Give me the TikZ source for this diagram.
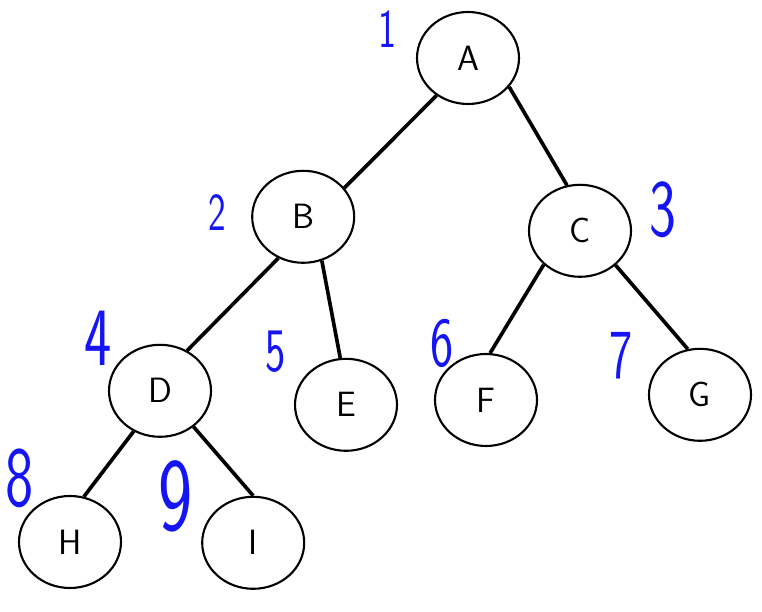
\documentclass[tikz,border=0pt]{standalone}
\usepackage{xcolor}
\usepackage{tikz}
\usetikzlibrary{shapes.geometric}
\definecolor{inkblack}{HTML}{000000}
\definecolor{penblue}{HTML}{1414F5}

\begin{document}
\begin{tikzpicture}[
  vertex/.style={ellipse,draw=inkblack,line width=1.5pt,fill=white,
    minimum width=2.55cm,minimum height=2.3cm,inner sep=0pt,
    font=\sffamily\fontsize{25}{25}\selectfont},
  link/.style={line width=2.6pt,inkblack},
  order/.style={text=penblue,inner sep=0pt,transform shape,xscale=0.7,
    font=\sffamily\fontsize{#1}{#1}\selectfont},
  order/.default=40
]
  \useasboundingbox (0,0) rectangle (19.05,15.3);

  \node[vertex] (A) at (11.70,13.85) {A};
  \node[vertex] (B) at (7.58,9.88) {B};
  \node[vertex] (C) at (14.50,9.53) {C};
  \node[vertex] (D) at (4.00,5.53) {D};
  \node[vertex] (E) at (8.65,5.18) {E};
  \node[vertex] (F) at (12.15,5.30) {F};
  \node[vertex] (G) at (17.50,5.43) {G};
  \node[vertex] (H) at (1.75,1.75) {H};
  \node[vertex] (I) at (6.33,1.73) {I};

  \draw[link] (A.230) -- (B.35);
  \draw[link] (A.325) -- (C.106);
  \draw[link] (B.239) -- (D.56);
  \draw[link] (B.293) -- (E.97);
  \draw[link] (C.223) -- (F.85);
  \draw[link] (C.316) -- (G.105);
  \draw[link] (D.237) -- (H.73);
  \draw[link] (D.313) -- (I.90);

  \node[order=39] (n1) at (9.70,14.58) {1};
  \node[order=38] (n2) at (5.43,9.98) {2};
  \node[order=58] (n3) at (16.58,10.05) {3};
  \node[order=59] (n4) at (2.45,6.85) {4};
  \node[order=44] (n5) at (6.90,6.50) {5};
  \node[order=50] (n6) at (11.05,6.72) {6};
  \node[order=50] (n7) at (15.53,6.40) {7};
  \node[order=61] (n8) at (0.50,3.35) {8};
  \node[order=74] (n9) at (4.40,2.90) {9};
\end{tikzpicture}
\end{document}
